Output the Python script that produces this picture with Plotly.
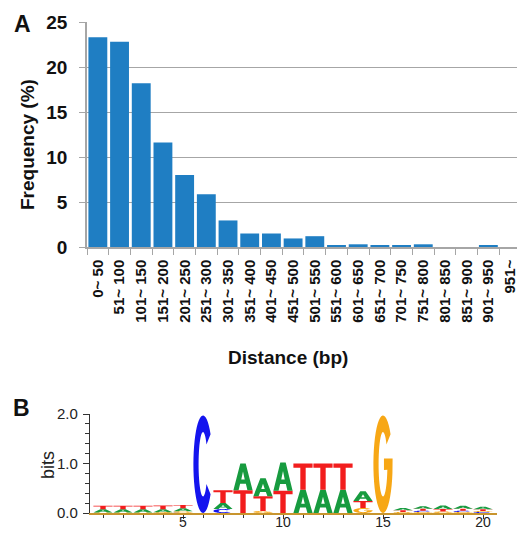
import math
import plotly.graph_objects as go

# ---------------- Panel A data ----------------
categories = ["0~ 50", "51~ 100", "101~ 150", "151~ 200", "201~ 250", "251~ 300",
              "301~ 350", "351~ 400", "401~ 450", "451~ 500", "501~ 550", "551~ 600",
              "601~ 650", "651~ 700", "701~ 750", "751~ 800", "801~ 850", "851~ 900",
              "901~ 950", "951~"]
frequency = [23.3, 22.8, 18.2, 11.6, 8.0, 5.85, 2.95, 1.5, 1.5, 0.95, 1.2, 0.15,
             0.3, 0.15, 0.15, 0.3, 0.0, 0.0, 0.15, 0.0]
freq_ticks = [0, 5, 10, 15, 20, 25]

# ---------------- Panel B data (sequence logo, bits) ----------------
positions = list(range(1, 21))
bits_A = [0.065, 0.065, 0.065, 0.06, 0.06, 0.0, 0.12, 0.54, 0.36, 0.57,
          0.47, 0.47, 0.47, 0.20, 0.0, 0.045, 0.05, 0.07, 0.06, 0.05]
bits_C = [0.0, 0.0, 0.0, 0.0, 0.005, 1.97, 0.08, 0.0, 0.0, 0.0,
          0.0, 0.0, 0.0, 0.0, 0.0, 0.0, 0.025, 0.0, 0.025, 0.02]
bits_G = [0.01, 0.01, 0.01, 0.015, 0.03, 0.0, 0.0, 0.0, 0.04, 0.0,
          0.0, 0.0, 0.0, 0.10, 1.97, 0.02, 0.02, 0.03, 0.02, 0.02]
bits_T = [0.07, 0.07, 0.07, 0.075, 0.065, 0.0, 0.26, 0.46, 0.30, 0.45,
          0.53, 0.53, 0.53, 0.14, 0.0, 0.035, 0.04, 0.05, 0.04, 0.035]
letter_colors = {"A": "#179b3f", "C": "#1414ee", "G": "#f7a715", "T": "#f21d1d"}

W, H = 517, 535
BAR_COLOR = "#1f7ec3"
GRID = "#a6a6a6"
BOLD = dict(family="Liberation Sans, Arial, sans-serif", color="#111111", weight="bold")
REG = dict(family="Liberation Sans, Arial, sans-serif", color="#222222")


# ---------------- glyph outlines in unit box ----------------
def ellipse_pts(cx, cy, rx, ry, a0, a1, n=40):
    pts = []
    for i in range(n + 1):
        a = math.radians(a0 + (a1 - a0) * i / n)
        pts.append((cx + rx * math.cos(a), cy + ry * math.sin(a)))
    return pts


def glyph(letter):
    if letter == "T":
        return [[(0, 1), (1, 1), (1, 0.84), (0.64, 0.84), (0.64, 0), (0.36, 0),
                 (0.36, 0.84), (0, 0.84)]]
    if letter == "A":
        outer = [(0, 0), (0.36, 1), (0.64, 1), (1, 0), (0.73, 0), (0.65, 0.24),
                 (0.35, 0.24), (0.27, 0)]
        hole = [(0.41, 0.40), (0.59, 0.40), (0.5, 0.70)]
        return [outer, hole]
    if letter == "C":
        outer = ellipse_pts(0.5, 0.5, 0.5, 0.5, 38, 322)
        inner = ellipse_pts(0.5, 0.5, 0.23, 0.33, 322, 38)
        return [outer + inner]
    if letter == "G":
        outer = ellipse_pts(0.5, 0.5, 0.5, 0.5, 38, 350)
        inner = ellipse_pts(0.5, 0.5, 0.23, 0.33, 350, 38)
        bar = [(1.0, 0.56), (0.55, 0.56), (0.55, 0.44)]
        return [outer + bar + inner]
    return []


def letter_path(letter, xc, y0, h, w=0.96):
    parts = []
    for poly in glyph(letter):
        pts = [(xc - w / 2 + u * w, y0 + v * h) for u, v in poly]
        s = "M " + " L ".join(f"{x:.4f},{y:.5f}" for x, y in pts) + " Z"
        parts.append(s)
    return " ".join(parts)


fig = go.Figure()

fig.add_trace(go.Bar(x=categories, y=frequency, marker=dict(color=BAR_COLOR, line=dict(width=0)),
                     xaxis="x", yaxis="y", showlegend=False, hoverinfo="x+y"))

# invisible trace to anchor the logo axes
fig.add_trace(go.Scatter(x=positions, y=[0] * len(positions), mode="markers",
                         marker=dict(size=1, opacity=0), xaxis="x2", yaxis="y2",
                         showlegend=False, hoverinfo="skip"))

shapes = []
for i, p in enumerate(positions):
    stack = [("A", bits_A[i]), ("C", bits_C[i]), ("G", bits_G[i]), ("T", bits_T[i])]
    stack = sorted([s for s in stack if s[1] > 0], key=lambda s: s[1])
    y0 = 0.0
    for letter, h in stack:
        shapes.append(dict(type="path", path=letter_path(letter, p, y0, h),
                           xref="x2", yref="y2", fillcolor=letter_colors[letter],
                           line=dict(width=0), layer="above"))
        y0 += h

def py(y):
    return 1 - y / H

def px(x):
    return x / W

annotations = [
    dict(text="A", x=px(22), y=py(24), xref="paper", yref="paper", showarrow=False,
         font=dict(size=23, **BOLD), xanchor="center", yanchor="middle"),
    dict(text="B", x=px(21), y=py(408), xref="paper", yref="paper", showarrow=False,
         font=dict(size=23, **BOLD), xanchor="center", yanchor="middle"),
    dict(text="Frequency (%)", x=px(28), y=py(145), xref="paper", yref="paper",
         showarrow=False, textangle=-90, font=dict(size=19, **BOLD),
         xanchor="center", yanchor="middle"),
    dict(text="Distance (bp)", x=px(288), y=py(357), xref="paper", yref="paper",
         showarrow=False, font=dict(size=19, **BOLD), xanchor="center", yanchor="middle"),
    dict(text="bits", x=px(48), y=py(465), xref="paper", yref="paper",
         showarrow=False, textangle=-90, font=dict(size=18, **REG),
         xanchor="center", yanchor="middle"),
]

fig.update_layout(
    width=W, height=H,
    margin=dict(l=0, r=0, t=0, b=0, autoexpand=False),
    paper_bgcolor="white", plot_bgcolor="white",
    bargap=0.13,
    shapes=shapes,
    annotations=annotations,
    xaxis=dict(domain=[px(87), 1.0], anchor="y", type="category", automargin=False,
               range=[-0.5, 19.32], showgrid=False, zeroline=False,
               showline=True, linecolor=GRID, linewidth=1.5,
               ticks="outside", tickson="boundaries", ticklen=6, tickcolor=GRID,
               ticklabeloverflow="allow", ticklabelstandoff=5,
               tickangle=-90, tickfont=dict(size=15, **BOLD), fixedrange=True),
    yaxis=dict(domain=[py(247), py(22)], anchor="x", range=[0, 25], automargin=False,
               tickvals=freq_ticks, showgrid=True, gridcolor=GRID, gridwidth=1,
               zeroline=False, showline=True, linecolor=GRID, linewidth=1.5,
               ticks="outside", ticklen=6, tickcolor=GRID,
               ticklabelstandoff=8,
               tickfont=dict(size=19, **BOLD), fixedrange=True),
    xaxis2=dict(domain=[px(90), px(497)], anchor="y2", range=[0.35, 20.7], automargin=False,
                tick0=0, dtick=5, showgrid=False, zeroline=False,
                showline=True, linecolor="#c8952e", linewidth=1.5,
                ticks="outside", ticklen=4, tickcolor="#333333",
                ticklabelstandoff=-9, ticklabeloverflow="allow",
                minor=dict(dtick=1, ticks="outside", ticklen=3, tickcolor="#333333", showgrid=False),
                tickfont=dict(size=14, **REG), fixedrange=True),
    yaxis2=dict(domain=[py(513), py(414)], anchor="x2", range=[0, 2.0], automargin=False,
                tickvals=[0, 1, 2], ticktext=["0.0", "1.0", "2.0"],
                showgrid=False, zeroline=False, showline=True, linecolor="#333333",
                linewidth=1.2, ticks="outside", ticklen=6, tickcolor="#333333",
                minor=dict(dtick=0.2, ticks="outside", ticklen=4, tickcolor="#333333", showgrid=False),
                ticklabelstandoff=2,
                tickfont=dict(size=15, **REG), fixedrange=True),
)

fig.write_html("out.html", config={"displayModeBar": False},
               post_script="document.body.style.margin='0';document.body.style.overflow='hidden';")
